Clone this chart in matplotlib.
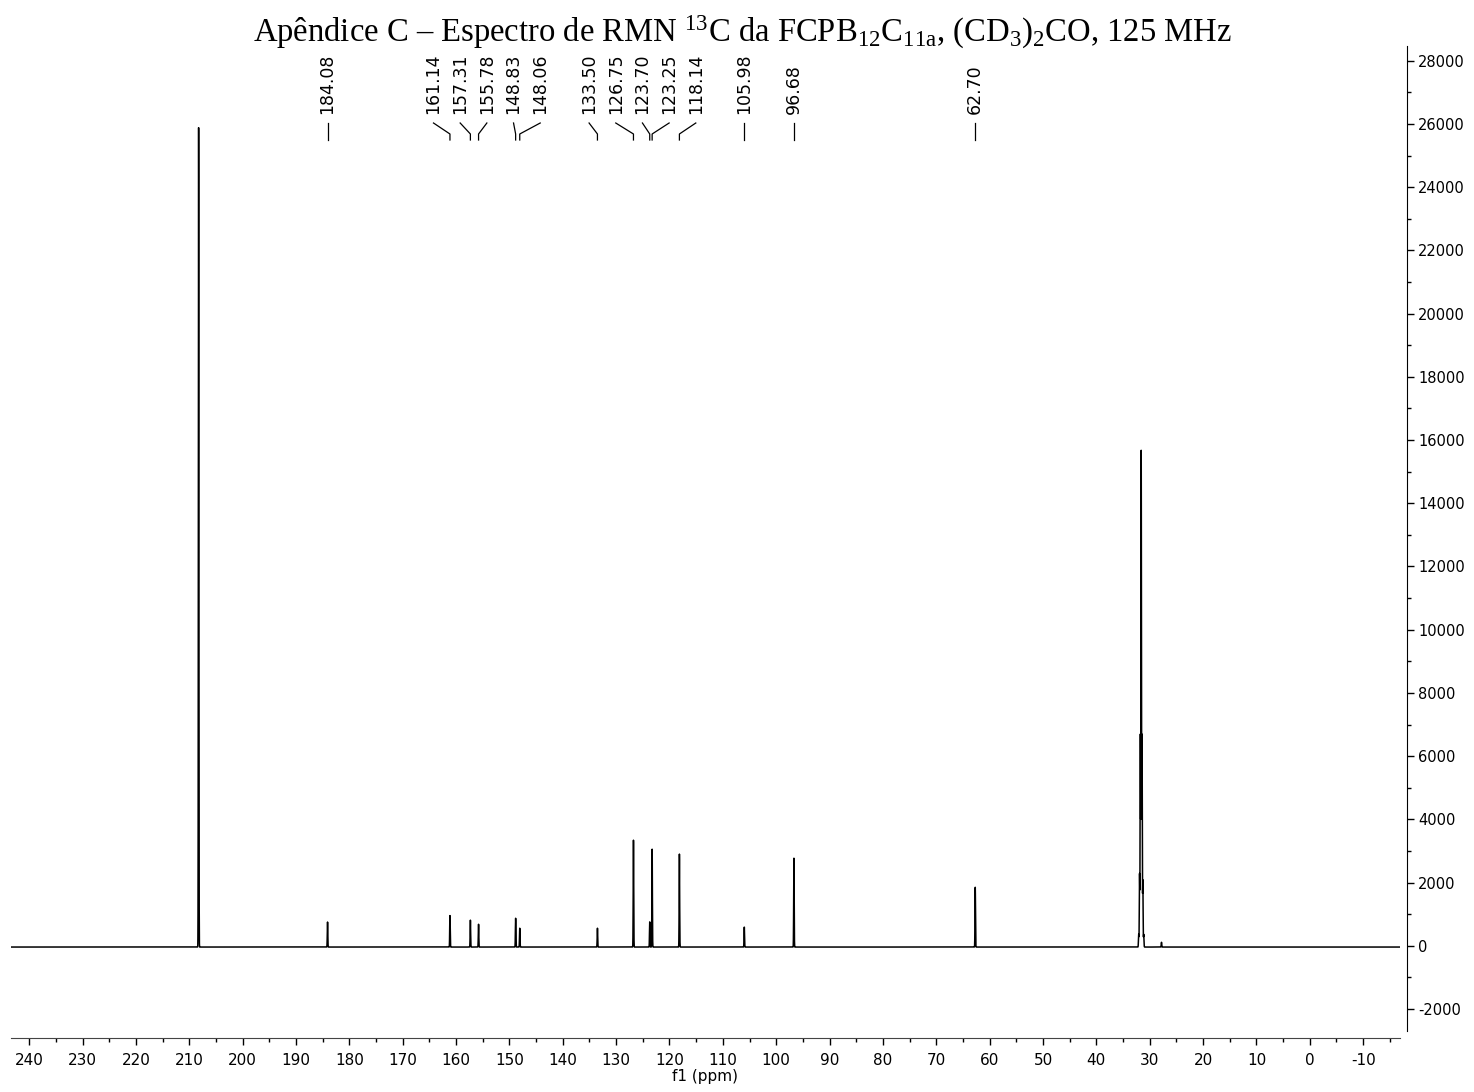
import numpy as np
import matplotlib
matplotlib.use("Agg")
import matplotlib.pyplot as plt
from matplotlib.ticker import MultipleLocator
from matplotlib.transforms import blended_transform_factory

# peak list (ppm, intensity)
shifts = [208.24, 184.08, 161.14, 157.31, 155.78, 148.83, 148.06, 133.50,
          126.75, 123.70, 123.25, 118.14, 105.98, 96.68, 62.70, 27.8]
heights = [25920, 790, 995, 850, 720, 910, 595, 595,
           3380, 795, 3095, 2940, 630, 2810, 1890, 150]

# acetone-d6 CD3 multiplet
cd3_center = 31.6
cd3_offsets = [-0.47, -0.31, -0.16, 0.0, 0.16, 0.31, 0.47]
cd3_heights = [400, 2100, 6700, 15690, 6700, 2300, 400]

labeled = [184.08, 161.14, 157.31, 155.78, 148.83, 148.06, 133.50, 126.75,
           123.70, 123.25, 118.14, 105.98, 96.68, 62.70]

baseline = -40
x_ticks = list(range(240, -11, -10))
y_ticks = list(range(-2000, 28001, 2000))
title = (r"Apêndice C – Espectro de RMN $^{13}$C da FCPB$_{\mathrm{12}}$"
         r"C$_{\mathrm{11a}}$, (CD$_{\mathrm{3}}$)$_{\mathrm{2}}$CO, 125 MHz")

plt.rcParams['mathtext.fontset'] = 'custom'
plt.rcParams['mathtext.rm'] = 'Liberation Serif'
plt.rcParams['mathtext.it'] = 'Liberation Serif:italic'
plt.rcParams['font.family'] = ['DejaVu Sans']

W, H = 1474, 1092
fig = plt.figure(figsize=(W / 100, H / 100), dpi=100)
ax = fig.add_axes([11 / W, 1 - 1037.7 / H, (1400 - 11) / W, (1037.7 - 46) / H])

# build the spectrum from the peak list
all_pos = list(shifts) + [cd3_center + o for o in cd3_offsets]
all_h = list(heights) + cd3_heights
x = np.concatenate([np.linspace(243.4, -16.9, 60000), np.array(all_pos)])
x = np.sort(x)[::-1]
y = np.full_like(x, baseline, dtype=float)
sigma = 0.045
for p, h in zip(all_pos, all_h):
    y += h * np.exp(-0.5 * ((x - p) / sigma) ** 2)

ax.plot(x, y, color='black', lw=1.1)

ax.set_xlim(243.4, -16.9)
ax.set_ylim(-2908, 28465)

for s in ['top', 'left']:
    ax.spines[s].set_visible(False)
ax.spines['right'].set_position(('outward', 5))
ax.spines['right'].set_bounds(-2696, 28465)
ax.spines['bottom'].set_color('#444444')

ax.yaxis.tick_right()
ax.set_xticks(x_ticks)
ax.set_xticklabels([str(t) for t in x_ticks])
ax.xaxis.set_minor_locator(MultipleLocator(5))
ax.set_yticks(y_ticks)
ax.set_yticklabels([str(t) for t in y_ticks])
ax.yaxis.set_minor_locator(MultipleLocator(1000))
ax.tick_params(axis='x', which='major', length=5, width=1, direction='out', labelsize=11, pad=6)
ax.tick_params(axis='x', which='minor', length=3, width=1, direction='out')
ax.tick_params(axis='y', which='major', length=5, width=1, direction='out', labelsize=10.5, pad=3)
ax.tick_params(axis='y', which='minor', length=3, width=1, direction='out')
ax.set_xlabel('f1 (ppm)', fontsize=11, labelpad=1)

# spread peak labels so they don't overlap (groups centred on their peaks)
min_gap = 5.0
groups = [[i] for i in range(len(labeled))]
while True:
    pos = []
    for g in groups:
        c = np.mean([labeled[i] for i in g])
        n = len(g)
        pos.append([c + (n - 1) / 2 * min_gap - k * min_gap for k in range(n)])
    merged = False
    for gi in range(len(groups) - 1):
        if pos[gi][-1] - pos[gi + 1][0] < min_gap - 1e-6:
            groups[gi] = groups[gi] + groups[gi + 1]
            del groups[gi + 1]
            merged = True
            break
    if not merged:
        break
label_pos = [p for grp in pos for p in grp]

trans = blended_transform_factory(ax.transData, fig.transFigure)
y_text = 1 - 114 / H
y_top = 1 - 123 / H
y_bend = 1 - 134 / H
y_bot = 1 - 140 / H
for lab_x, pk in zip(label_pos, labeled):
    ax.plot([lab_x, pk, pk], [y_top, y_bend, y_bot], color='black', lw=0.9,
            transform=trans, clip_on=False)
    ax.text(lab_x, y_text, f"{pk:.2f}", rotation=90, ha='center', va='bottom',
            fontsize=12.5, transform=trans)

fig.text(742 / W, 1 - 42 / H, title, ha='center', va='baseline', fontsize=23.5,
         family='Liberation Serif')

fig.savefig('out.png', dpi=100)
